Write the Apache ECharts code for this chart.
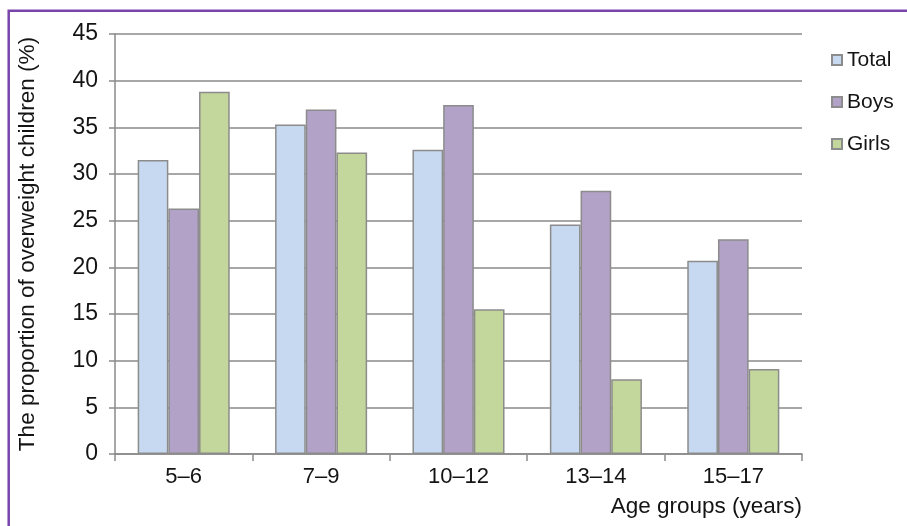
<!DOCTYPE html>
<html>
<head>
<meta charset="utf-8">
<script src="https://cdn.jsdelivr.net/npm/echarts@6/dist/echarts.min.js"></script>
<style>
  html, body { margin: 0; padding: 0; background: #ffffff; }
  #chart { width: 907px; height: 526px; }
</style>
</head>
<body>
<div id="chart"></div>
<script>
// Age groups on the category axis
const categories = ['5–6', '7–9', '10–12', '13–14', '15–17'];

// Share of overweight children (%) per age group
const totalValues = [31.5, 35.3, 32.6, 24.6, 20.7];
const boysValues  = [26.3, 36.9, 37.4, 28.2, 23.0];
const girlsValues = [38.8, 32.3, 15.5, 8.0, 9.1];

const seriesNames = ['Total', 'Boys', 'Girls'];
const yAxisTitle = 'The proportion of overweight children (%)';
const xAxisTitle = 'Age groups (years)';

const FONT = '"Liberation Sans", Arial, sans-serif';
const LINE_GRAY = '#8a8a8a';
const BAR_EDGE = '#8c8c8c';
const TEXT = '#141414';

const chart = echarts.init(document.getElementById('chart'), null, { renderer: 'canvas' });

function barSeries(name, values, color) {
  return {
    name: name,
    type: 'bar',
    data: values,
    barGap: '0%',
    barCategoryGap: '33%',
    itemStyle: { color: color, borderColor: BAR_EDGE, borderWidth: 1.5 }
  };
}

const option = {
  animation: false,
  backgroundColor: '#ffffff',
  textStyle: { fontFamily: FONT },
  grid: { left: 115, right: 105, top: 34, bottom: 72 },
  legend: {
    orient: 'vertical',
    left: 826,
    top: 44,
    itemWidth: 10,
    itemHeight: 10,
    itemGap: 20,
    icon: 'rect',
    data: seriesNames,
    textStyle: { fontFamily: FONT, fontSize: 21, color: TEXT, lineHeight: 22 }
  },
  xAxis: {
    type: 'category',
    data: categories,
    axisLine: { lineStyle: { color: LINE_GRAY, width: 1.5 } },
    axisTick: { show: true, length: 7, lineStyle: { color: LINE_GRAY, width: 1.5 } },
    axisLabel: { fontFamily: FONT, fontSize: 22, color: TEXT, margin: 12 }
  },
  yAxis: {
    type: 'value',
    min: 0,
    max: 45,
    interval: 5,
    name: yAxisTitle,
    nameLocation: 'middle',
    nameGap: 76,
    nameTextStyle: { fontFamily: FONT, fontSize: 22.6, color: TEXT },
    axisLine: { show: true, lineStyle: { color: LINE_GRAY, width: 1.5 } },
    axisTick: { show: true, length: 6, lineStyle: { color: LINE_GRAY, width: 1.5 } },
    axisLabel: { fontFamily: FONT, fontSize: 23, color: TEXT, margin: 17 },
    splitLine: { show: true, lineStyle: { color: LINE_GRAY, width: 1.5 } }
  },
  graphic: [
    {
      type: 'rect',
      z: -1,
      silent: true,
      shape: { x: 8.7, y: 10.8, width: 1000, height: 1000 },
      style: { fill: 'none', stroke: '#7a45ab', lineWidth: 2.5 }
    },
    {
      type: 'text',
      right: 105,
      top: 495,
      silent: true,
      style: { text: xAxisTitle, font: '22.5px ' + FONT, fill: TEXT, textAlign: 'right' }
    }
  ],
  series: [
    barSeries(seriesNames[0], totalValues, '#c6d9f0'),
    barSeries(seriesNames[1], boysValues, '#b2a2c7'),
    barSeries(seriesNames[2], girlsValues, '#c3d69b')
  ]
};

chart.setOption(option);
</script>
</body>
</html>
